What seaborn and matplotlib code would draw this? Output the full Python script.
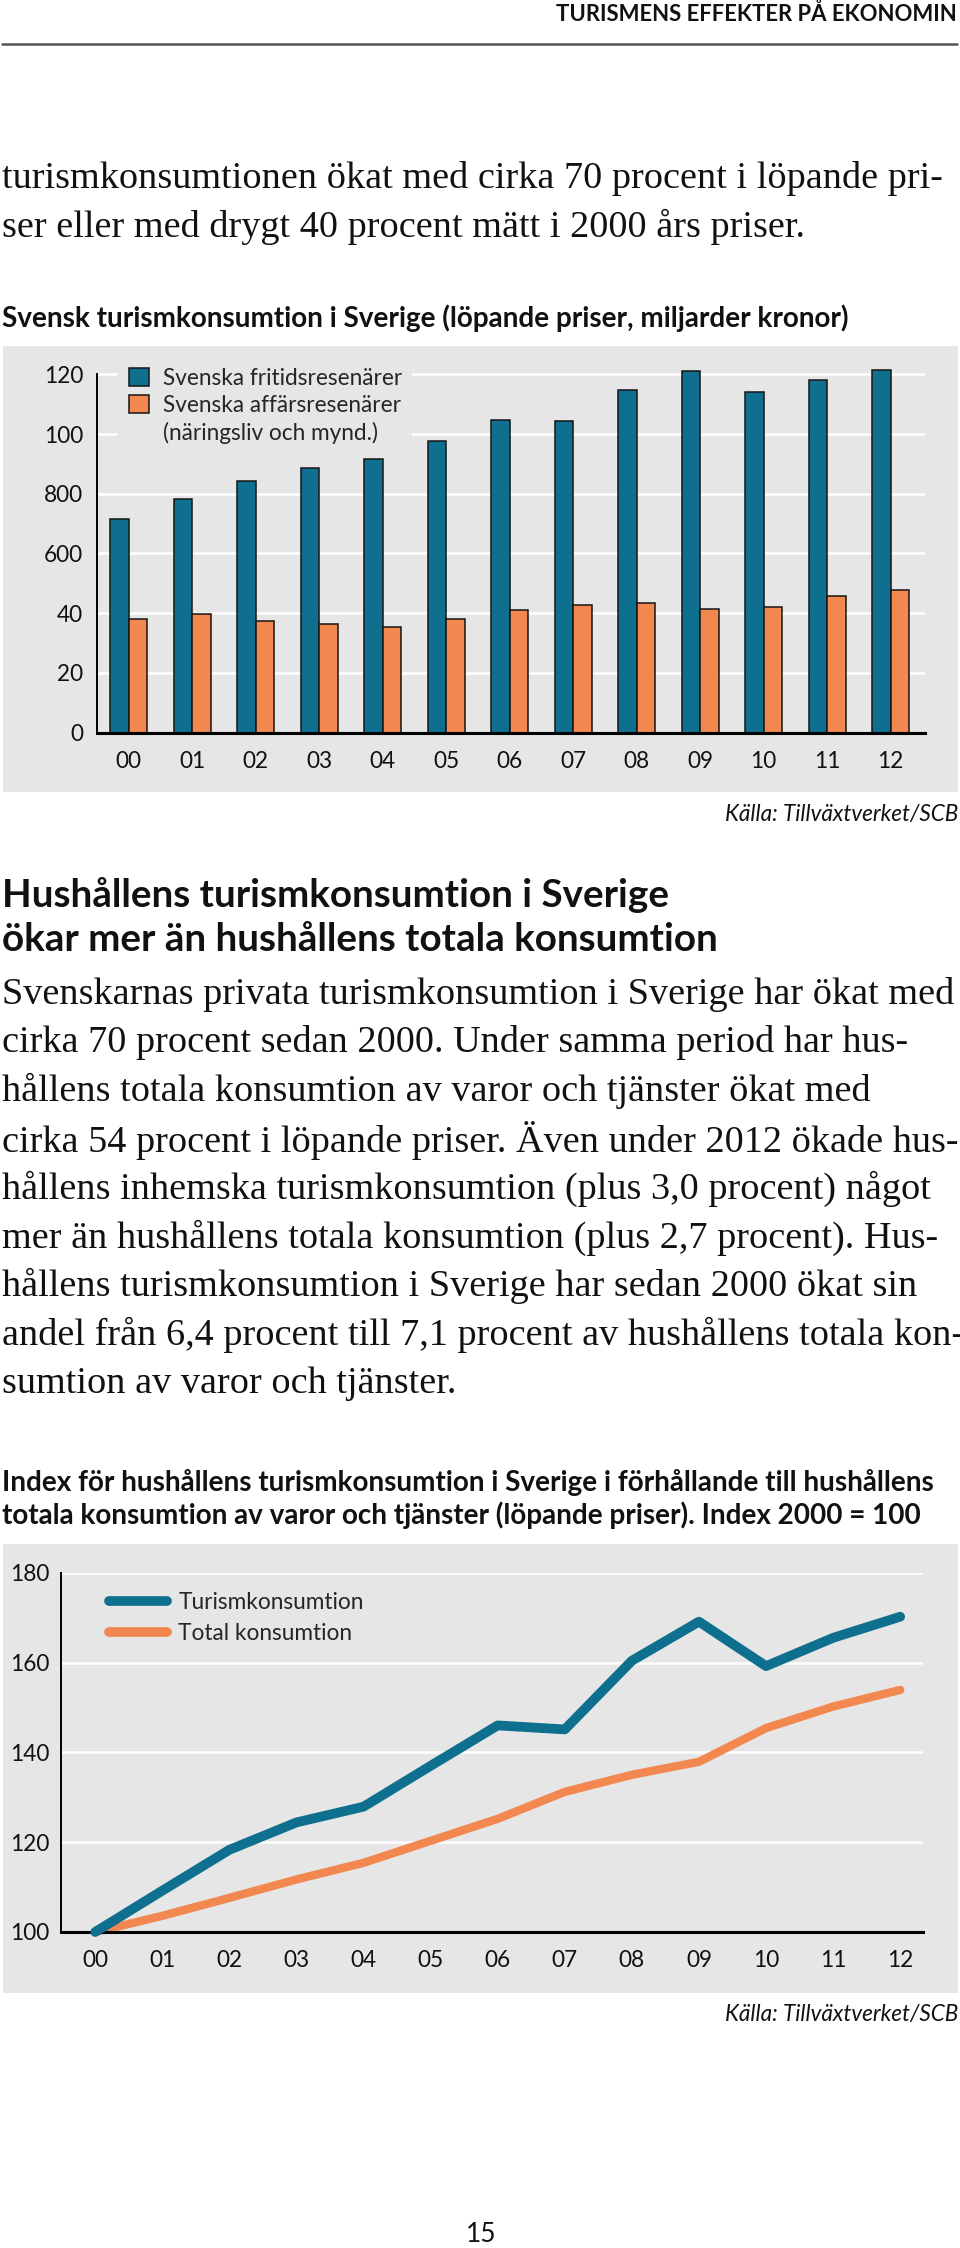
import matplotlib
matplotlib.use('Agg')
import pandas as pd
import seaborn as sns
import matplotlib.pyplot as plt
from matplotlib.patches import Rectangle
from matplotlib.lines import Line2D

# Data
years = ['00', '01', '02', '03', '04', '05', '06', '07', '08', '09', '10', '11', '12']
fritid = [71.6, 78.4, 84.4, 88.7, 91.6, 97.8, 104.7, 104.3, 114.6, 121.2, 114.2, 118.1, 121.5]
affars = [38.0, 39.9, 37.4, 36.4, 35.4, 38.0, 41.2, 42.8, 43.5, 41.5, 42.0, 45.8, 47.7]
bar_ticks = [0, 20, 40, 60, 80, 100, 120]
bar_tick_labels = ['0', '20', '40', '600', '800', '100', '120']
bar_names = ['Svenska fritidsresenärer', 'Svenska affärsresenärer']
bar_note = '(näringsliv och mynd.)'

turism_index = [100, 109.2, 118.3, 124.4, 127.9, 137.0, 146.0, 145.1, 160.4, 169.1, 159.2, 165.5, 170.2]
total_index = [100, 103.6, 107.6, 111.7, 115.4, 120.3, 125.2, 131.2, 135.0, 137.9, 145.4, 150.2, 153.9]
line_ticks = [100, 120, 140, 160, 180]
line_names = ['Turismkonsumtion', 'Total konsumtion']

header = 'TURISMENS EFFEKTER PÅ EKONOMIN'
intro = ['turismkonsumtionen ökat med cirka 70 procent i löpande pri-',
         'ser eller med drygt 40 procent mätt i 2000 års priser.']
title1 = 'Svensk turismkonsumtion i Sverige (löpande priser, miljarder kronor)'
heading = ['Hushållens turismkonsumtion i Sverige',
           'ökar mer än hushållens totala konsumtion']
paragraph = ['Svenskarnas privata turismkonsumtion i Sverige har ökat med',
             'cirka 70 procent sedan 2000. Under samma period har hus-',
             'hållens totala konsumtion av varor och tjänster ökat med',
             'cirka 54 procent i löpande priser. Även under 2012 ökade hus-',
             'hållens inhemska turismkonsumtion (plus 3,0 procent) något',
             'mer än hushållens totala konsumtion (plus 2,7 procent). Hus-',
             'hållens turismkonsumtion i Sverige har sedan 2000 ökat sin',
             'andel från 6,4 procent till 7,1 procent av hushållens totala kon-',
             'sumtion av varor och tjänster.']
title2 = ['Index för hushållens turismkonsumtion i Sverige i förhållande till hushållens',
          'totala konsumtion av varor och tjänster (löpande priser). Index 2000 = 100']
source = 'Källa: Tillväxtverket/SCB'

blue = '#0f6f8f'
orange = '#f2874f'
panel = '#e6e6e6'
edge = '#151515'

sns.set_theme(style='white')
plt.rcParams['font.family'] = ['Lato', 'DejaVu Sans']

W, H = 960, 2248
fig = plt.figure(figsize=(W / 100, H / 100), dpi=100)
renderer = fig.canvas.get_renderer()


def fit(s, width, **kw):
    # font size that makes the string about width pixels wide
    t = fig.text(0, 0, s, fontsize=20, **kw)
    w = t.get_window_extent(renderer).width
    t.remove()
    return 20 * width / w


def put(x, y, s, size, ha='left', **kw):
    return fig.text(x / W, 1 - y / H, s, fontsize=size, ha=ha, va='center', **kw)


serif = 'Liberation Serif'
body_size = fit(paragraph[0], 953, family=serif)
head_size = fit(heading[0], 668, weight='bold')
title_size = fit(title1, 845, weight='bold')
title2_size = fit(title2[0], 930, weight='bold')
header_size = fit(header, 403, weight='bold')
small = fit(bar_names[0], 240)
src_size = fit(source, 233, style='italic')
fs_px = small * 100 / 72

# page header
put(957, 14, header, header_size, ha='right', weight='bold', color='#111111')
fig.add_artist(Line2D([2 / W, 957 / W], [1 - 44 / H, 1 - 44 / H], color='#555555', lw=1.8,
                      transform=fig.transFigure))

for i, line in enumerate(intro):
    put(2, 178 + i * 49, line, body_size, family=serif, color='#111111')

put(2, 318, title1, title_size, weight='bold', color='#111111')

# grey panels behind the charts
fig.add_artist(Rectangle((3 / W, 1 - 792 / H), 955 / W, 446 / H, facecolor=panel,
                         edgecolor='none', transform=fig.transFigure, zorder=-1))
fig.add_artist(Rectangle((3 / W, 1 - 1993 / H), 955 / W, 449 / H, facecolor=panel,
                         edgecolor='none', transform=fig.transFigure, zorder=-1))

# bar chart
df_bar = pd.DataFrame({'year': years * 2,
                       'value': fritid + affars,
                       'grupp': [bar_names[0]] * len(years) + [bar_names[1]] * len(years)})

ax1 = fig.add_axes([97 / W, 1 - 732.7 / H, 828 / W, 367.4 / H])
ax1.set_facecolor('none')
sns.barplot(data=df_bar, x='year', y='value', hue='grupp', palette=[blue, orange],
            width=0.58, saturation=1, edgecolor=edge, linewidth=1.1, legend=False, ax=ax1)
ax1.set_ylim(0, 123)
ax1.set_xlim(-0.5, 12.54)
ax1.set_yticks(bar_ticks, bar_tick_labels)
ax1.set_xlabel('')
ax1.set_ylabel('')
ax1.yaxis.grid(True, color='white', lw=1.8)
ax1.set_axisbelow(True)
for side in ['top', 'right']:
    ax1.spines[side].set_visible(False)
ax1.spines['left'].set_bounds(0, 120)
ax1.spines['left'].set_linewidth(1.4)
ax1.spines['left'].set_color('black')
ax1.spines['bottom'].set_linewidth(2.2)
ax1.spines['bottom'].set_color('black')
ax1.tick_params(axis='y', length=0, pad=10, labelsize=small, labelcolor='#111111')
ax1.tick_params(axis='x', length=0, pad=13, labelsize=small, labelcolor='#111111')

# legend: third row holds the second line of the business label
leg_handles = [Rectangle((0, 0), 1, 1, facecolor=blue, edgecolor=edge, lw=1.1),
               Rectangle((0, 0), 1, 1, facecolor=orange, edgecolor=edge, lw=1.1),
               Rectangle((0, 0), 1, 1, facecolor='none', edgecolor='none')]
ax1.legend(leg_handles, bar_names + [bar_note], loc='upper left',
           bbox_to_anchor=(107 / W, 1 - 346 / H), bbox_transform=fig.transFigure,
           fontsize=small, frameon=True, facecolor=panel, edgecolor='none', framealpha=1,
           fancybox=False, borderpad=0.45, handlelength=20 / fs_px, handleheight=20 / fs_px,
           handletextpad=14 / fs_px, labelspacing=0.27)

put(958, 815, source, src_size, ha='right', style='italic', color='#111111')

# text between the charts
for i, line in enumerate(heading):
    put(2, 895 + i * 45, line, head_size, weight='bold', color='#111111')
for i, line in enumerate(paragraph):
    put(2, 994 + i * 48.7, line, body_size, family=serif, color='#111111')
for i, line in enumerate(title2):
    put(2, 1483 + i * 32, line, title2_size, weight='bold', color='#111111')

# line chart
df_line = pd.DataFrame({'x': list(range(len(years))) * 2,
                        'value': turism_index + total_index,
                        'serie': [line_names[0]] * len(years) + [line_names[1]] * len(years)})

ax2 = fig.add_axes([61 / W, 1 - 1932 / H, 862 / W, 359.3 / H])
ax2.set_facecolor('none')
sns.lineplot(data=df_line, x='x', y='value', hue='serie', palette=[blue, orange],
             linewidth=6.5, sort=False, ax=ax2)
ax2.lines[0].set_linewidth(7.0)
ax2.lines[0].set_zorder(4)
ax2.lines[1].set_linewidth(6.0)
for ln in ax2.lines:
    ln.set_solid_capstyle('round')
    ln.set_clip_on(False)
ax2.set_ylim(100, 180)
ax2.set_xlim(-0.51, 12.34)
ax2.set_yticks(line_ticks)
ax2.set_xticks(range(len(years)), years)
ax2.set_xlabel('')
ax2.set_ylabel('')
ax2.yaxis.grid(True, color='white', lw=1.8)
ax2.set_axisbelow(True)
for side in ['top', 'right']:
    ax2.spines[side].set_visible(False)
ax2.spines['left'].set_linewidth(1.4)
ax2.spines['left'].set_color('black')
ax2.spines['bottom'].set_linewidth(2.2)
ax2.spines['bottom'].set_color('black')
ax2.spines['bottom'].set_zorder(3)
ax2.tick_params(axis='y', length=0, pad=8.5, labelsize=small, labelcolor='#111111')
ax2.tick_params(axis='x', length=0, pad=13, labelsize=small, labelcolor='#111111')

handles, labels = ax2.get_legend_handles_labels()
for h in handles:
    h.set_solid_capstyle('round')
    h.set_linewidth(7.0)
ax2.legend(handles, labels, loc='upper left', bbox_to_anchor=(98 / W, 1 - 1581 / H),
           bbox_transform=fig.transFigure, fontsize=small, frameon=False, borderpad=0,
           handlelength=58 / fs_px, handletextpad=11 / fs_px, labelspacing=0.42)

put(958, 2015, source, src_size, ha='right', style='italic', color='#111111')
put(481, 2235, '15', 19, ha='center', color='#111111')

fig.savefig('out.png', dpi=100)
